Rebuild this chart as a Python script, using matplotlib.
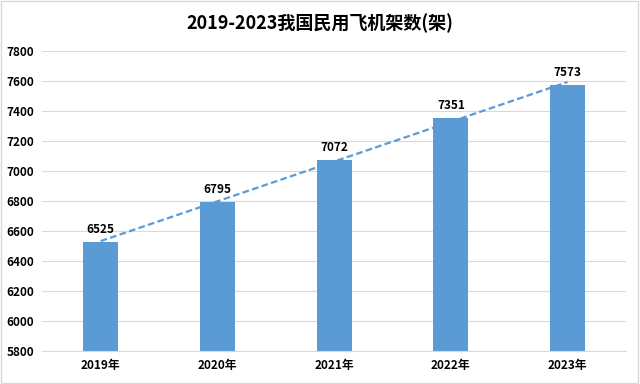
import matplotlib.pyplot as plt
import numpy as np

plt.rcParams['font.family'] = ['Noto Sans CJK SC', 'DejaVu Sans']

# data
years = ['2019年', '2020年', '2021年', '2022年', '2023年']
aircraft = [6525, 6795, 7072, 7351, 7573]
yticks = list(range(5800, 7801, 200))

bar_color = '#5B9BD5'

fig = plt.figure(figsize=(6.4, 3.84), dpi=100)
ax = fig.add_axes([0.066, 0.086, 0.912, 0.781])

x = np.arange(len(years))
ax.bar(x, aircraft, width=0.3, color=bar_color, zorder=2)

# labels above bars
for xi, v in zip(x, aircraft):
    ax.text(xi, v + 40, str(v), ha='center', va='bottom', fontsize=8.5,
            fontweight='bold', color='#000000')

# linear trend line
coef = np.polyfit(x, aircraft, 1)
ax.plot(x, np.polyval(coef, x), linestyle=(0, (3, 1.5)), color=bar_color,
        linewidth=1.6, zorder=3)

ax.set_ylim(5800, 7800)
ax.set_xlim(-0.5, len(years) - 0.5)
ax.set_yticks(yticks)
ax.set_xticks(x)
ax.set_xticklabels(years)
for lab in ax.get_xticklabels() + ax.get_yticklabels():
    lab.set_fontsize(8.5)
    lab.set_fontweight('bold')

ax.grid(axis='y', color='#D9D9D9', linewidth=0.8, zorder=0)
for s in ['top', 'right', 'left']:
    ax.spines[s].set_visible(False)
ax.spines['bottom'].set_color('#D9D9D9')
ax.tick_params(length=0, pad=6)

fig.suptitle('2019-2023我国民用飞机架数(架)', fontsize=13, fontweight='bold', y=0.965)

# light outer frame
fig.patches.append(plt.Rectangle((0.002, 0.003), 0.995, 0.994, transform=fig.transFigure,
                                 fill=False, edgecolor='#D9D9D9', linewidth=1))

plt.savefig('out.png', dpi=100)
